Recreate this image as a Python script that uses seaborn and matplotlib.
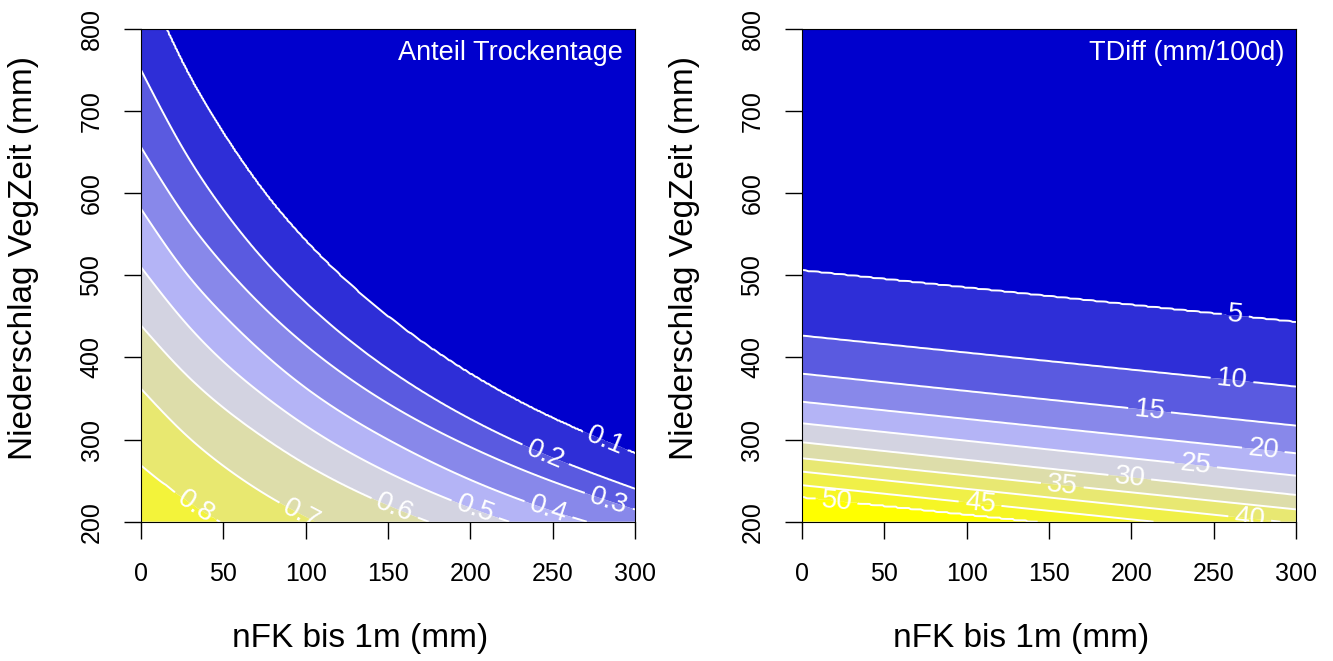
import numpy as np
import matplotlib
matplotlib.use("Agg")
import matplotlib.pyplot as plt
import seaborn as sns

# ---------------- data ----------------
# Left panel: "Anteil Trockentage" - y position (mm) of each contour level
# at nFK columns x_cols
x_cols = [0, 25, 50, 75, 100, 150, 200, 250, 300]
left_levels = [0.1, 0.2, 0.3, 0.4, 0.5, 0.6, 0.7, 0.8]
lvl_01 = [870, 760, 673, 601, 542, 450, 380, 326, 283]
lvl_02 = [750, 656, 580, 518, 467, 386, 325, 278, 240]
lvl_03 = [656, 577, 513, 460, 415, 344, 291, 249, 215]
lvl_04 = [581, 509, 452, 404, 363, 300, 251, 213, 183]
lvl_05 = [510, 447, 395, 353, 317, 260, 217, 183, 155]
lvl_06 = [439, 384, 339, 302, 270, 220, 182, 152, 127]
lvl_07 = [362, 310, 268, 234, 206, 162, 129, 103, 83]
lvl_08 = [269, 230, 198, 172, 150, 115, 89, 68, 52]
left_anchor_low = 0.0      # value far above the plot
left_anchor_high = 0.9     # value far below the plot
left_colors = ['#0000CD', '#2E2ED7', '#5A5AE0', '#8888EA', '#B4B4F6',
               '#D3D3E1', '#DDDDAA', '#E8E870', '#F3F33A']
left_label_pos = [(281, 293), (243, 271), (283, 218), (247, 212),
                  (202, 210), (153, 212), (99, 214), (33, 218)]

# Right panel: "TDiff (mm/100d)" - straight contour lines, y at x=0 and x=300
right_levels = [5, 10, 15, 20, 25, 30, 35, 40, 45, 50]
right_y_at0 = [505.7, 426.5, 380.2, 346.0, 319.8, 296.7, 277.2, 261.0, 244.4, 230.4]
right_y_at300 = [442.8, 364.4, 316.9, 283.3, 256.0, 232.5, 215.0, 198.0, 182.0, 167.0]
right_anchor_low = 0
right_anchor_high = 55
right_colors = ['#0000CD', '#2E2ED7', '#5A5AE0', '#8888EA', '#B4B4F6',
                '#D3D3E1', '#DDDDAA', '#E8E872', '#F0F048', '#F6F625', '#FFFF00']
right_label_pos = [(263, 448), (261, 370), (211, 334), (280, 285), (239, 267),
                   (199, 253), (158, 243), (272, 206), (108, 220), (21, 224)]

x_ticks = [0, 50, 100, 150, 200, 250, 300]
y_ticks = [200, 300, 400, 500, 600, 700, 800]
xlabel = "nFK bis 1m (mm)"
ylabel = "Niederschlag VegZeit (mm)"
titles = ["Anteil Trockentage", "TDiff (mm/100d)"]

# ---------------- build gridded fields from the contour positions ----------------
xg = np.linspace(0, 300, 301)
yg = np.linspace(200, 800, 361)


def natural_spline(xk, yk, xq):
    xk = np.asarray(xk, float)
    yk = np.asarray(yk, float)
    n = len(xk)
    if n < 3:
        return np.interp(xq, xk, yk)
    h = np.diff(xk)
    A = np.zeros((n, n))
    r = np.zeros(n)
    A[0, 0] = 1.0
    A[-1, -1] = 1.0
    for i in range(1, n - 1):
        A[i, i - 1] = h[i - 1]
        A[i, i] = 2 * (h[i - 1] + h[i])
        A[i, i + 1] = h[i]
        r[i] = 6 * ((yk[i + 1] - yk[i]) / h[i] - (yk[i] - yk[i - 1]) / h[i - 1])
    M = np.linalg.solve(A, r)
    xq = np.atleast_1d(np.asarray(xq, float))
    idx = np.clip(np.searchsorted(xk, xq) - 1, 0, n - 2)
    x0, x1 = xk[idx], xk[idx + 1]
    hh = x1 - x0
    t0 = x1 - xq
    t1 = xq - x0
    return (M[idx] * t0 ** 3 / (6 * hh) + M[idx + 1] * t1 ** 3 / (6 * hh)
            + (yk[idx] / hh - M[idx] * hh / 6) * t0
            + (yk[idx + 1] / hh - M[idx + 1] * hh / 6) * t1)


def field_from_levels(level_vals, level_ys_cols, x_columns, lo, hi):
    """level_ys_cols: list of arrays (y of each level at x_columns)."""
    curves = [natural_spline(x_columns, arr, xg) for arr in level_ys_cols]
    Z = np.zeros((len(yg), len(xg)))
    for j in range(len(xg)):
        ys = [c[j] for c in curves]
        ys_full = [-400.0] + ys[::-1] + [1600.0]
        vals_full = [hi] + list(level_vals)[::-1] + [lo]
        Z[:, j] = np.interp(yg, ys_full, vals_full)
    return Z


Z_left = field_from_levels(left_levels,
                           [lvl_01, lvl_02, lvl_03, lvl_04, lvl_05, lvl_06, lvl_07, lvl_08],
                           x_cols, left_anchor_low, left_anchor_high)
Z_right = field_from_levels(right_levels,
                            [[a, b] for a, b in zip(right_y_at0, right_y_at300)],
                            [0, 300], right_anchor_low, right_anchor_high)

# ---------------- style ----------------
sns.set_style("ticks")
plt.rcParams['font.family'] = ['Liberation Sans', 'DejaVu Sans']
plt.rcParams['text.color'] = 'black'
plt.rcParams['axes.labelcolor'] = 'black'
plt.rcParams['xtick.color'] = 'black'
plt.rcParams['ytick.color'] = 'black'

fig = plt.figure(figsize=(13.33, 6.61), dpi=100)
W, H = 1333.0, 661.0
ax_l = fig.add_axes([141 / W, (H - 521.7) / H, 494 / W, 492.7 / H])
ax_r = fig.add_axes([802 / W, (H - 521.7) / H, 494 / W, 492.7 / H])

X, Y = np.meshgrid(xg, yg)


def draw(ax, Z, levels, lo, hi, colors, fmt, label_pos, title):
    all_lv = [lo] + list(levels) + [hi]
    ax.contourf(X, Y, Z, levels=all_lv, colors=colors, antialiased=True)
    cs = ax.contour(X, Y, Z, levels=levels, colors='white', linewidths=1.4)
    txts = ax.clabel(cs, levels=levels, fmt=fmt, inline=True, fontsize=20,
                     colors='white', manual=label_pos, inline_spacing=6)
    for t in txts:
        t.set_clip_on(True)
    ax.set_xlim(0, 300)
    ax.set_ylim(200, 800)
    ax.set_xticks(x_ticks)
    ax.set_yticks(y_ticks)
    ax.tick_params(axis='both', direction='out', length=12, width=1,
                   labelsize=18, pad=17, color='black', labelcolor='black')
    ax.tick_params(axis='y', labelrotation=90, pad=15)
    for lab in ax.get_yticklabels():
        lab.set_va('center')
    for s in ax.spines.values():
        s.set_visible(True)
        s.set_color('black')
        s.set_linewidth(0.8)
    ax.text(0.976, 0.937, title, transform=ax.transAxes, ha='right',
            va='baseline', color='white', fontsize=19.5)
    ax.text(0.443, -0.238, xlabel, transform=ax.transAxes, ha='center',
            va='center', fontsize=24, color='black')
    ax.text(-0.238, 0.535, ylabel, transform=ax.transAxes, ha='center',
            va='center', rotation=90, fontsize=24, color='black')


draw(ax_l, Z_left, left_levels, left_anchor_low, left_anchor_high,
     left_colors, '%.1f', left_label_pos, titles[0])
draw(ax_r, Z_right, right_levels, right_anchor_low, right_anchor_high,
     right_colors, '%d', right_label_pos, titles[1])

fig.savefig("out.png", dpi=100)
